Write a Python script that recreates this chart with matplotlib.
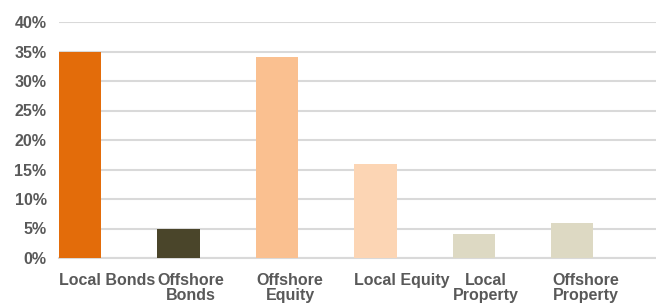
import matplotlib.pyplot as plt
import matplotlib.transforms as mtransforms
from matplotlib.ticker import FuncFormatter

categories = ["Local Bonds", "Offshore\nBonds", "Offshore\nEquity",
              "Local Equity", "Local\nProperty", "Offshore\nProperty"]
values = [35, 5, 34, 16, 4, 6]
colors = ["#E36C0A", "#4A452A", "#FAC090", "#FCD5B4", "#DDD9C3", "#DDD9C3"]
# labels sit a bit to the right of the bars, as in the original
label_shift_px = [27, 12, 13, 26, 12, 13]

plt.rcParams["font.family"] = ["Liberation Sans", "DejaVu Sans"]

fig = plt.figure(figsize=(6.56, 3.03), dpi=100)
ax = fig.add_axes([59 / 656, 45 / 303, 1 - 59 / 656, 236 / 303])

x = range(len(values))
ax.bar(x, values, width=0.43, color=colors, zorder=3)

ax.set_ylim(0, 40)
ax.set_xlim(-0.215, 5.85)
ax.set_yticks(range(0, 41, 5))
ax.yaxis.set_major_formatter(FuncFormatter(lambda v, p: f"{int(v)}%"))
ax.set_xticks(list(x))
ax.set_xticklabels(categories, linespacing=1.0)

ax.grid(axis="y", color="#D9D9D9", linewidth=1.5, zorder=0)
ax.tick_params(length=0, labelsize=11.5, labelcolor="#595959")
ax.tick_params(axis="y", pad=9)
ax.tick_params(axis="x", pad=11)
for lab in ax.get_xticklabels() + ax.get_yticklabels():
    lab.set_fontweight("bold")
for lab, dx in zip(ax.get_xticklabels(), label_shift_px):
    lab.set_transform(lab.get_transform() +
                      mtransforms.ScaledTranslation(dx / 100, 0, fig.dpi_scale_trans))
for s in ["top", "right", "left"]:
    ax.spines[s].set_visible(False)
ax.spines["bottom"].set_color("#D9D9D9")
ax.spines["bottom"].set_linewidth(1.5)

plt.savefig("out.png", dpi=100)
